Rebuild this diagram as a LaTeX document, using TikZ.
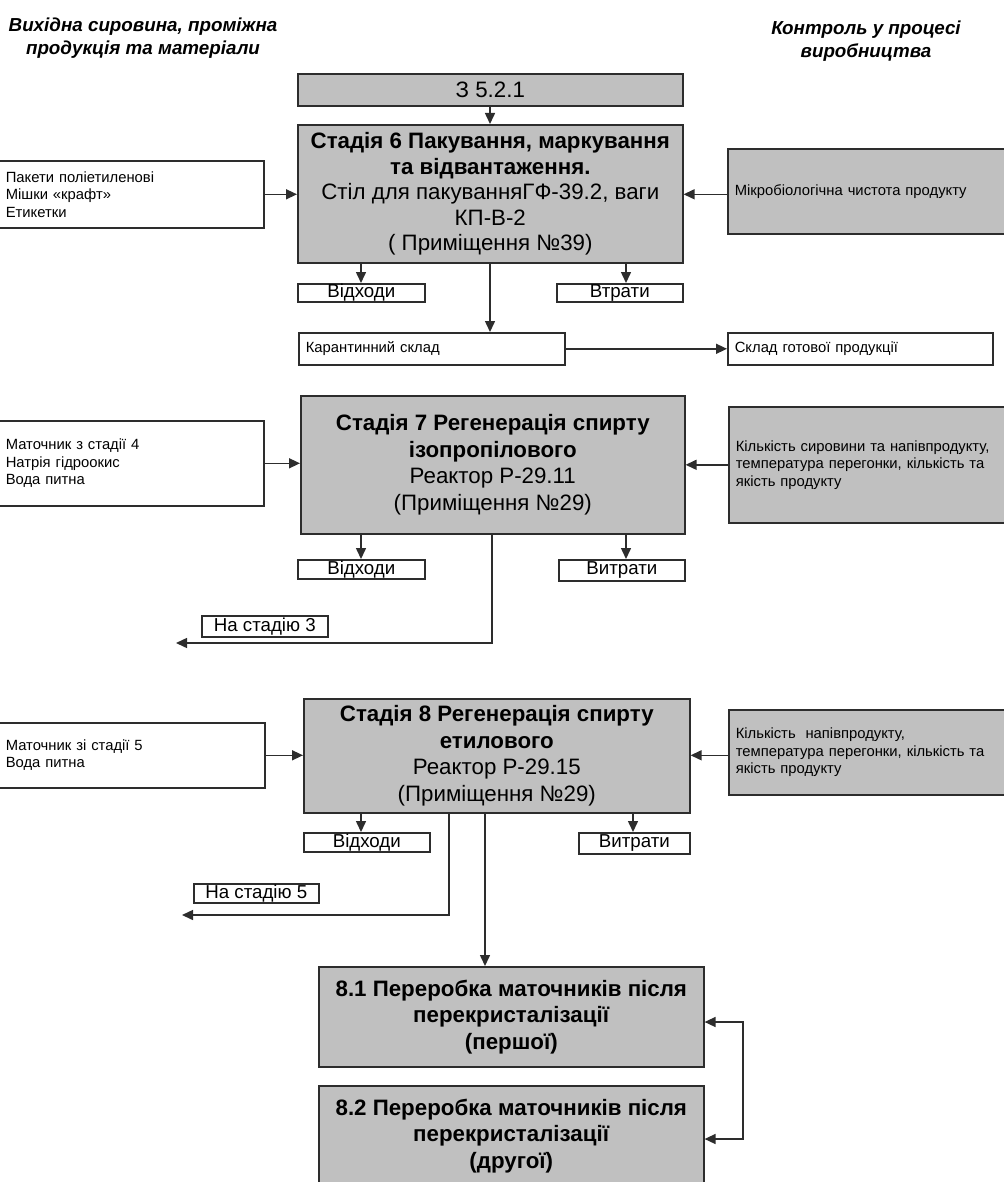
\documentclass[tikz,border=0pt]{standalone}
\usepackage{fontspec}
\setmainfont{Liberation Sans}
\usetikzlibrary{arrows.meta}

\definecolor{boxgray}{RGB}{192,192,192}
\definecolor{linegray}{RGB}{45,45,45}

\begin{document}
\begin{tikzpicture}[x=1pt, y=-1pt,
        >={Triangle[length=11pt,width=10pt]},
        flow/.style={draw=linegray, line width=1.5pt, ->},
        stagebox/.style={draw=linegray, line width=1.6pt, fill=boxgray, anchor=north west, inner sep=0pt, align=center, font=\fontsize{22.3}{26.5}\selectfont},
        infobox/.style={draw=linegray, line width=1.6pt, anchor=north west, inner xsep=7pt, inner ysep=0pt, align=left, font=\fontsize{14.8}{17.5}\selectfont},
        ctrlbox/.style={infobox, fill=boxgray},
        wastebox/.style={draw=linegray, line width=1.6pt, anchor=north west, inner sep=0pt, font=\fontsize{18.7}{20}\selectfont},
        headtext/.style={align=center, font=\fontsize{18.8}{22.5}\selectfont\bfseries\itshape}]
        \useasboundingbox (0,0) rectangle (1003,1182);

        \node[headtext] (hdrin) at (143,38) {Вихідна сировина, проміжна\\продукція та матеріали};
        \node[headtext] (hdrctl) at (866,41) {Контроль у процесі\\виробництва};

        \node[stagebox, minimum width=385pt, minimum height=32pt] (ref521) at (297,73) {З 5.2.1};
        \node[stagebox, minimum width=385pt, minimum height=138pt, font=\fontsize{22.3}{25.5}\selectfont] (st6) at (297,124) {\textbf{Стадія 6 Пакування, маркування}\\\textbf{та відвантаження.}\\Стіл для пакуванняГФ-39.2, ваги\\КП-В-2\\( Приміщення №39)};
        \node[infobox, text width=251pt, minimum height=67pt] (in6) at (-2,160) {Пакети поліетиленові\\Мішки «крафт»\\Етикетки};
        \node[ctrlbox, text width=265pt, minimum height=85pt] (ctl6) at (727,148) {Мікробіологічна чистота продукту};
        \node[wastebox, minimum width=127pt, minimum height=18pt] (vidh6) at (297,283) {Відходи};
        \node[wastebox, minimum width=126pt, minimum height=18pt] (vtr6) at (556,283) {Втрати};
        \node[infobox, text width=252pt, minimum height=32pt] (quar) at (298,332) {Карантинний склад};
        \node[infobox, text width=251pt, minimum height=32pt] (store) at (727,332) {Склад готової продукції};

        \node[stagebox, minimum width=384pt, minimum height=138pt] (st7) at (300,395) {\textbf{Стадія 7 Регенерація спирту}\\\textbf{ізопропілового}\\Реактор Р-29.11\\(Приміщення №29)};
        \node[infobox, text width=251pt, minimum height=85pt] (in7) at (-2,420) {Маточник з стадії 4\\Натрія гідроокис\\Вода питна};
        \node[ctrlbox, text width=264pt, minimum height=116pt] (ctl7) at (728,406) {Кількість сировини та напівпродукту,\\температура перегонки, кількість та\\якість продукту};
        \node[wastebox, minimum width=127pt, minimum height=19pt] (vidh7) at (297,559) {Відходи};
        \node[wastebox, minimum width=126pt, minimum height=21pt] (vytr7) at (558,559) {Витрати};
        \node[wastebox, minimum width=126pt, minimum height=21pt] (to3) at (201,615) {На стадію 3};
        \coordinate (out3) at (176,643);

        \node[stagebox, minimum width=386pt, minimum height=114pt] (st8) at (303,698) {\textbf{Стадія 8 Регенерація спирту}\\\textbf{етилового}\\Реактор Р-29.15\\(Приміщення №29)};
        \node[infobox, text width=252pt, minimum height=65pt] (in8) at (-2,722) {Маточник зі стадії 5\\Вода питна};
        \node[ctrlbox, text width=264pt, minimum height=85pt] (ctl8) at (728,709) {Кількість\ \ напівпродукту,\\температура перегонки, кількість та\\якість продукту};
        \node[wastebox, minimum width=126pt, minimum height=19pt] (vidh8) at (303,832) {Відходи};
        \node[wastebox, minimum width=111pt, minimum height=21pt] (vytr8) at (578,832) {Витрати};
        \node[wastebox, minimum width=125pt, minimum height=19pt] (to5) at (193,883) {На стадію 5};
        \coordinate (out5) at (182,915);

        \node[stagebox, minimum width=385pt, minimum height=100pt] (p81) at (318,966) {\textbf{8.1 Переробка маточників після}\\\textbf{перекристалізації}\\\textbf{(першої)}};
        \node[stagebox, minimum width=385pt, minimum height=100pt] (p82) at (318,1085) {\textbf{8.2 Переробка маточників після}\\\textbf{перекристалізації}\\\textbf{(другої)}};

        \draw[flow] (ref521.south -| 490,0) -- (st6.north -| 490,0);
        \draw[flow] (in6.east) -- (in6.east -| st6.west);
        \draw[flow] (ctl6.west |- in6.east) -- (st6.east |- in6.east);
        \draw[flow] (st6.south -| 361,0) -- (vidh6.north -| 361,0);
        \draw[flow] (st6.south -| 626,0) -- (vtr6.north -| 626,0);
        \draw[flow] (st6.south -| 490,0) -- (quar.north -| 490,0);
        \draw[flow] (quar.east) -- (store.west);

        \draw[flow] (in7.east) -- (in7.east -| st7.west);
        \draw[flow] (ctl7.west) -- (ctl7.west -| st7.east);
        \draw[flow] (st7.south -| 361,0) -- (vidh7.north -| 361,0);
        \draw[flow] (st7.south -| 626,0) -- (vytr7.north -| 626,0);
        \draw[flow] (st7.south -| 492,0) |- (out3);

        \draw[flow] (in8.east) -- (in8.east -| st8.west);
        \draw[flow] (ctl8.west |- in8.east) -- (st8.east |- in8.east);
        \draw[flow] (st8.south -| 361,0) -- (vidh8.north -| 361,0);
        \draw[flow] (st8.south -| 633,0) -- (vytr8.north -| 633,0);
        \draw[flow] (st8.south -| 449,0) |- (out5);
        \draw[flow] (st8.south -| 485,0) -- (p81.north -| 485,0);
        \draw[flow, <->] (p81.east |- 0,1022) -- (743,1022) -- (743,1139) -- (p82.east |- 0,1139);
\end{tikzpicture}
\end{document}
